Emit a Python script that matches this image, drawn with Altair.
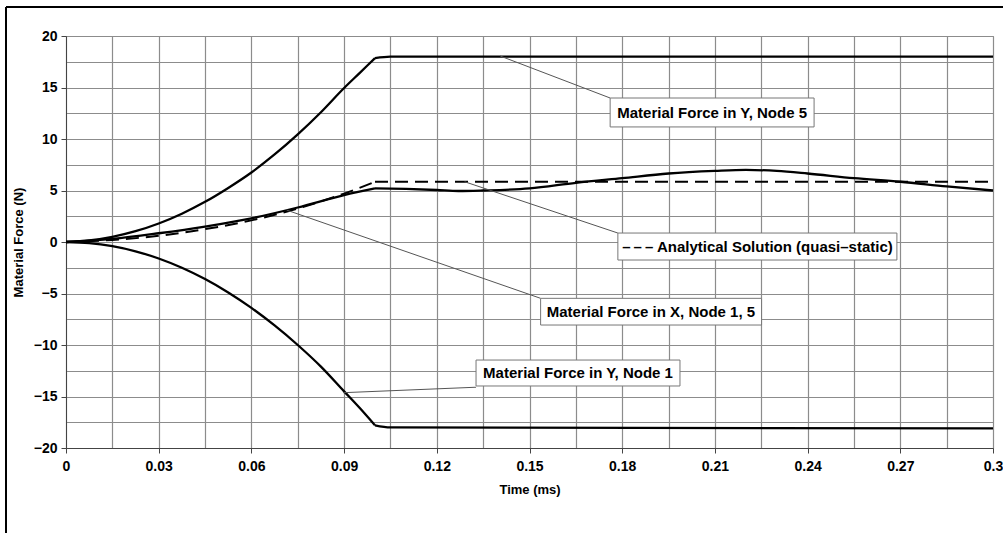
import altair as alt
import pandas as pd

# ---- data ----
time_y = [0, 0.0075, 0.015, 0.0225, 0.03, 0.0375, 0.045, 0.0525, 0.06, 0.0675,
          0.075, 0.0825, 0.09, 0.095, 0.1, 0.105, 0.3]
force_y_node5 = [0, 0.15, 0.5, 1.05, 1.8, 2.75, 3.9, 5.25, 6.75, 8.5,
                 10.45, 12.6, 14.95, 16.4, 17.85, 18.0, 18.0]
force_y_node1 = [0, -0.1, -0.4, -0.9, -1.6, -2.5, -3.6, -4.9, -6.4, -8.1,
                 -10.0, -12.1, -14.5, -16.1, -17.8, -18.0, -18.1]

time_x = [0, 0.015, 0.03, 0.045, 0.06, 0.075, 0.09, 0.1, 0.11, 0.12, 0.127,
          0.135, 0.15, 0.165, 0.18, 0.195, 0.21, 0.22, 0.23, 0.24, 0.255,
          0.27, 0.285, 0.3]
force_x_node15 = [0, 0.3, 0.85, 1.5, 2.3, 3.35, 4.55, 5.2, 5.15, 5.05, 4.95,
                  5.0, 5.2, 5.75, 6.2, 6.65, 6.9, 7.0, 6.9, 6.65, 6.2,
                  5.85, 5.4, 5.0]

time_an = [0, 0.015, 0.03, 0.045, 0.06, 0.075, 0.09, 0.1, 0.3]
force_an = [0, 0.2, 0.6, 1.25, 2.1, 3.25, 4.7, 5.85, 5.85]

x_ticks = [0, 0.015, 0.03, 0.045, 0.06, 0.075, 0.09, 0.105, 0.12, 0.135, 0.15,
           0.165, 0.18, 0.195, 0.21, 0.225, 0.24, 0.255, 0.27, 0.285, 0.3]
y_ticks = [-20, -17.5, -15, -12.5, -10, -7.5, -5, -2.5, 0, 2.5, 5, 7.5, 10,
           12.5, 15, 17.5, 20]

# annotations (callout boxes with leader lines)
ann_text = ["Material Force in Y, Node 5",
            "\u2013\u2009\u2013\u2009\u2013 Analytical Solution (quasi\u2013static)",
            "Material Force in X, Node 1, 5",
            "Material Force in Y, Node 1"]
ann_x = [0.2091, 0.2238, 0.1893, 0.1657]
ann_y = [12.57, -0.45, -6.77, -12.72]
box_x1 = [0.1761, 0.1786, 0.1536, 0.1327]
box_x2 = [0.2421, 0.2689, 0.2251, 0.1987]
box_y1 = [13.98, 0.87, -5.47, -11.46]
box_y2 = [11.17, -1.75, -8.06, -13.98]
lead_x1 = [0.1405, 0.129, 0.0714, 0.0897]
lead_y1 = [18.06, 5.85, 3.1, -14.63]
lead_x2 = [0.1761, 0.1786, 0.1536, 0.1327]
lead_y2 = [13.98, 0.87, -5.47, -14.1]

LOAD_END = 0.1  # ramp ends here: curves have a sharp corner


def split(times, vals, name):
    """Split a series at the end of the load ramp so the corner stays sharp."""
    rows = []
    for t, v in zip(times, vals):
        if t <= LOAD_END:
            rows.append({"t": t, "f": v, "s": name + "_ramp"})
        if t >= LOAD_END:
            rows.append({"t": t, "f": v, "s": name + "_hold"})
    return rows


solid = pd.DataFrame(split(time_y, force_y_node5, "Y5")
                     + split(time_y, force_y_node1, "Y1")
                     + split(time_x, force_x_node15, "X15"))
dashed = pd.DataFrame(split(time_an, force_an, "AN"))
ann = pd.DataFrame({"text": ann_text, "x": ann_x, "y": ann_y,
                    "bx1": box_x1, "bx2": box_x2, "by1": box_y1, "by2": box_y2,
                    "lx1": lead_x1, "ly1": lead_y1, "lx2": lead_x2, "ly2": lead_y2})

FONT = "Liberation Sans"
xscale = alt.Scale(domain=[0, 0.3], nice=False, zero=False)
yscale = alt.Scale(domain=[-20, 20], nice=False, zero=False)

x_axis = alt.Axis(values=x_ticks, format="~g",
                  labelExpr="round(datum.value*1000) % 30 == 0 ? datum.label : ''",
                  tickOpacity={"condition": {"test": "round(datum.value*1000) % 30 == 0", "value": 1}, "value": 0},
                  title="Time (ms)", labelFlush=False, labelPadding=6, titlePadding=10)
y_axis = alt.Axis(values=y_ticks, format="~g",
                  labelExpr="datum.value % 5 == 0 ? datum.label : ''",
                  tickOpacity={"condition": {"test": "datum.value % 5 == 0", "value": 1}, "value": 0},
                  title="Material Force (N)", labelFlush=False, labelPadding=4, titlePadding=8)


def X(field):
    return alt.X(field, type="quantitative", scale=xscale, axis=x_axis)


def Y(field):
    return alt.Y(field, type="quantitative", scale=yscale, axis=y_axis)


curves = alt.Chart(solid).mark_line(color="black", strokeWidth=2.3, interpolate="monotone").encode(
    x=X("t"), y=Y("f"), detail="s:N",
)

analytical = alt.Chart(dashed).mark_line(color="black", strokeWidth=2, strokeDash=[13, 7],
                                         interpolate="monotone").encode(
    x=X("t"), y=Y("f"), detail="s:N",
)

leaders = alt.Chart(ann).mark_rule(color="#555555", strokeWidth=1).encode(
    x=X("lx1"), x2="lx2:Q", y=Y("ly1"), y2="ly2:Q",
)

boxes = alt.Chart(ann).mark_rect(fill="white", stroke="#777777", strokeWidth=1).encode(
    x=X("bx1"), x2="bx2:Q", y=Y("by1"), y2="by2:Q",
)

labels = alt.Chart(ann).mark_text(font=FONT, fontWeight="bold", fontSize=15,
                                  color="black", align="center", baseline="middle").encode(
    x=X("x"), y=Y("y"), text="text:N",
)

one = pd.DataFrame({"a": [0]})
border_left = alt.Chart(one).mark_rule(color="black", strokeWidth=2).encode(
    x=alt.value(-60), y=alt.value(-29), y2=alt.value(520))
border_top = alt.Chart(one).mark_rule(color="black", strokeWidth=2).encode(
    x=alt.value(-60), x2=alt.value(1000), y=alt.value(-29))

chart = alt.layer(curves, analytical, leaders, boxes, labels, border_left, border_top).properties(
    width=927, height=412,
    autosize=alt.AutoSizeParams(type="none"),
    padding={"left": 66, "top": 36, "right": 10, "bottom": 85},
    background="white",
).configure_axis(
    labelFont=FONT, labelFontWeight="bold", labelFontSize=14, labelColor="black",
    titleFont=FONT, titleFontWeight="bold", titleFontSize=13, titleColor="black",
    grid=True, gridColor="#8c8c8c", gridWidth=1.2, gridOpacity=1,
    domainColor="#444444", tickColor="#444444", tickSize=5,
).configure_view(stroke="#8c8c8c")

chart.save("out.html", embed_options={"renderer": "svg", "actions": False})
